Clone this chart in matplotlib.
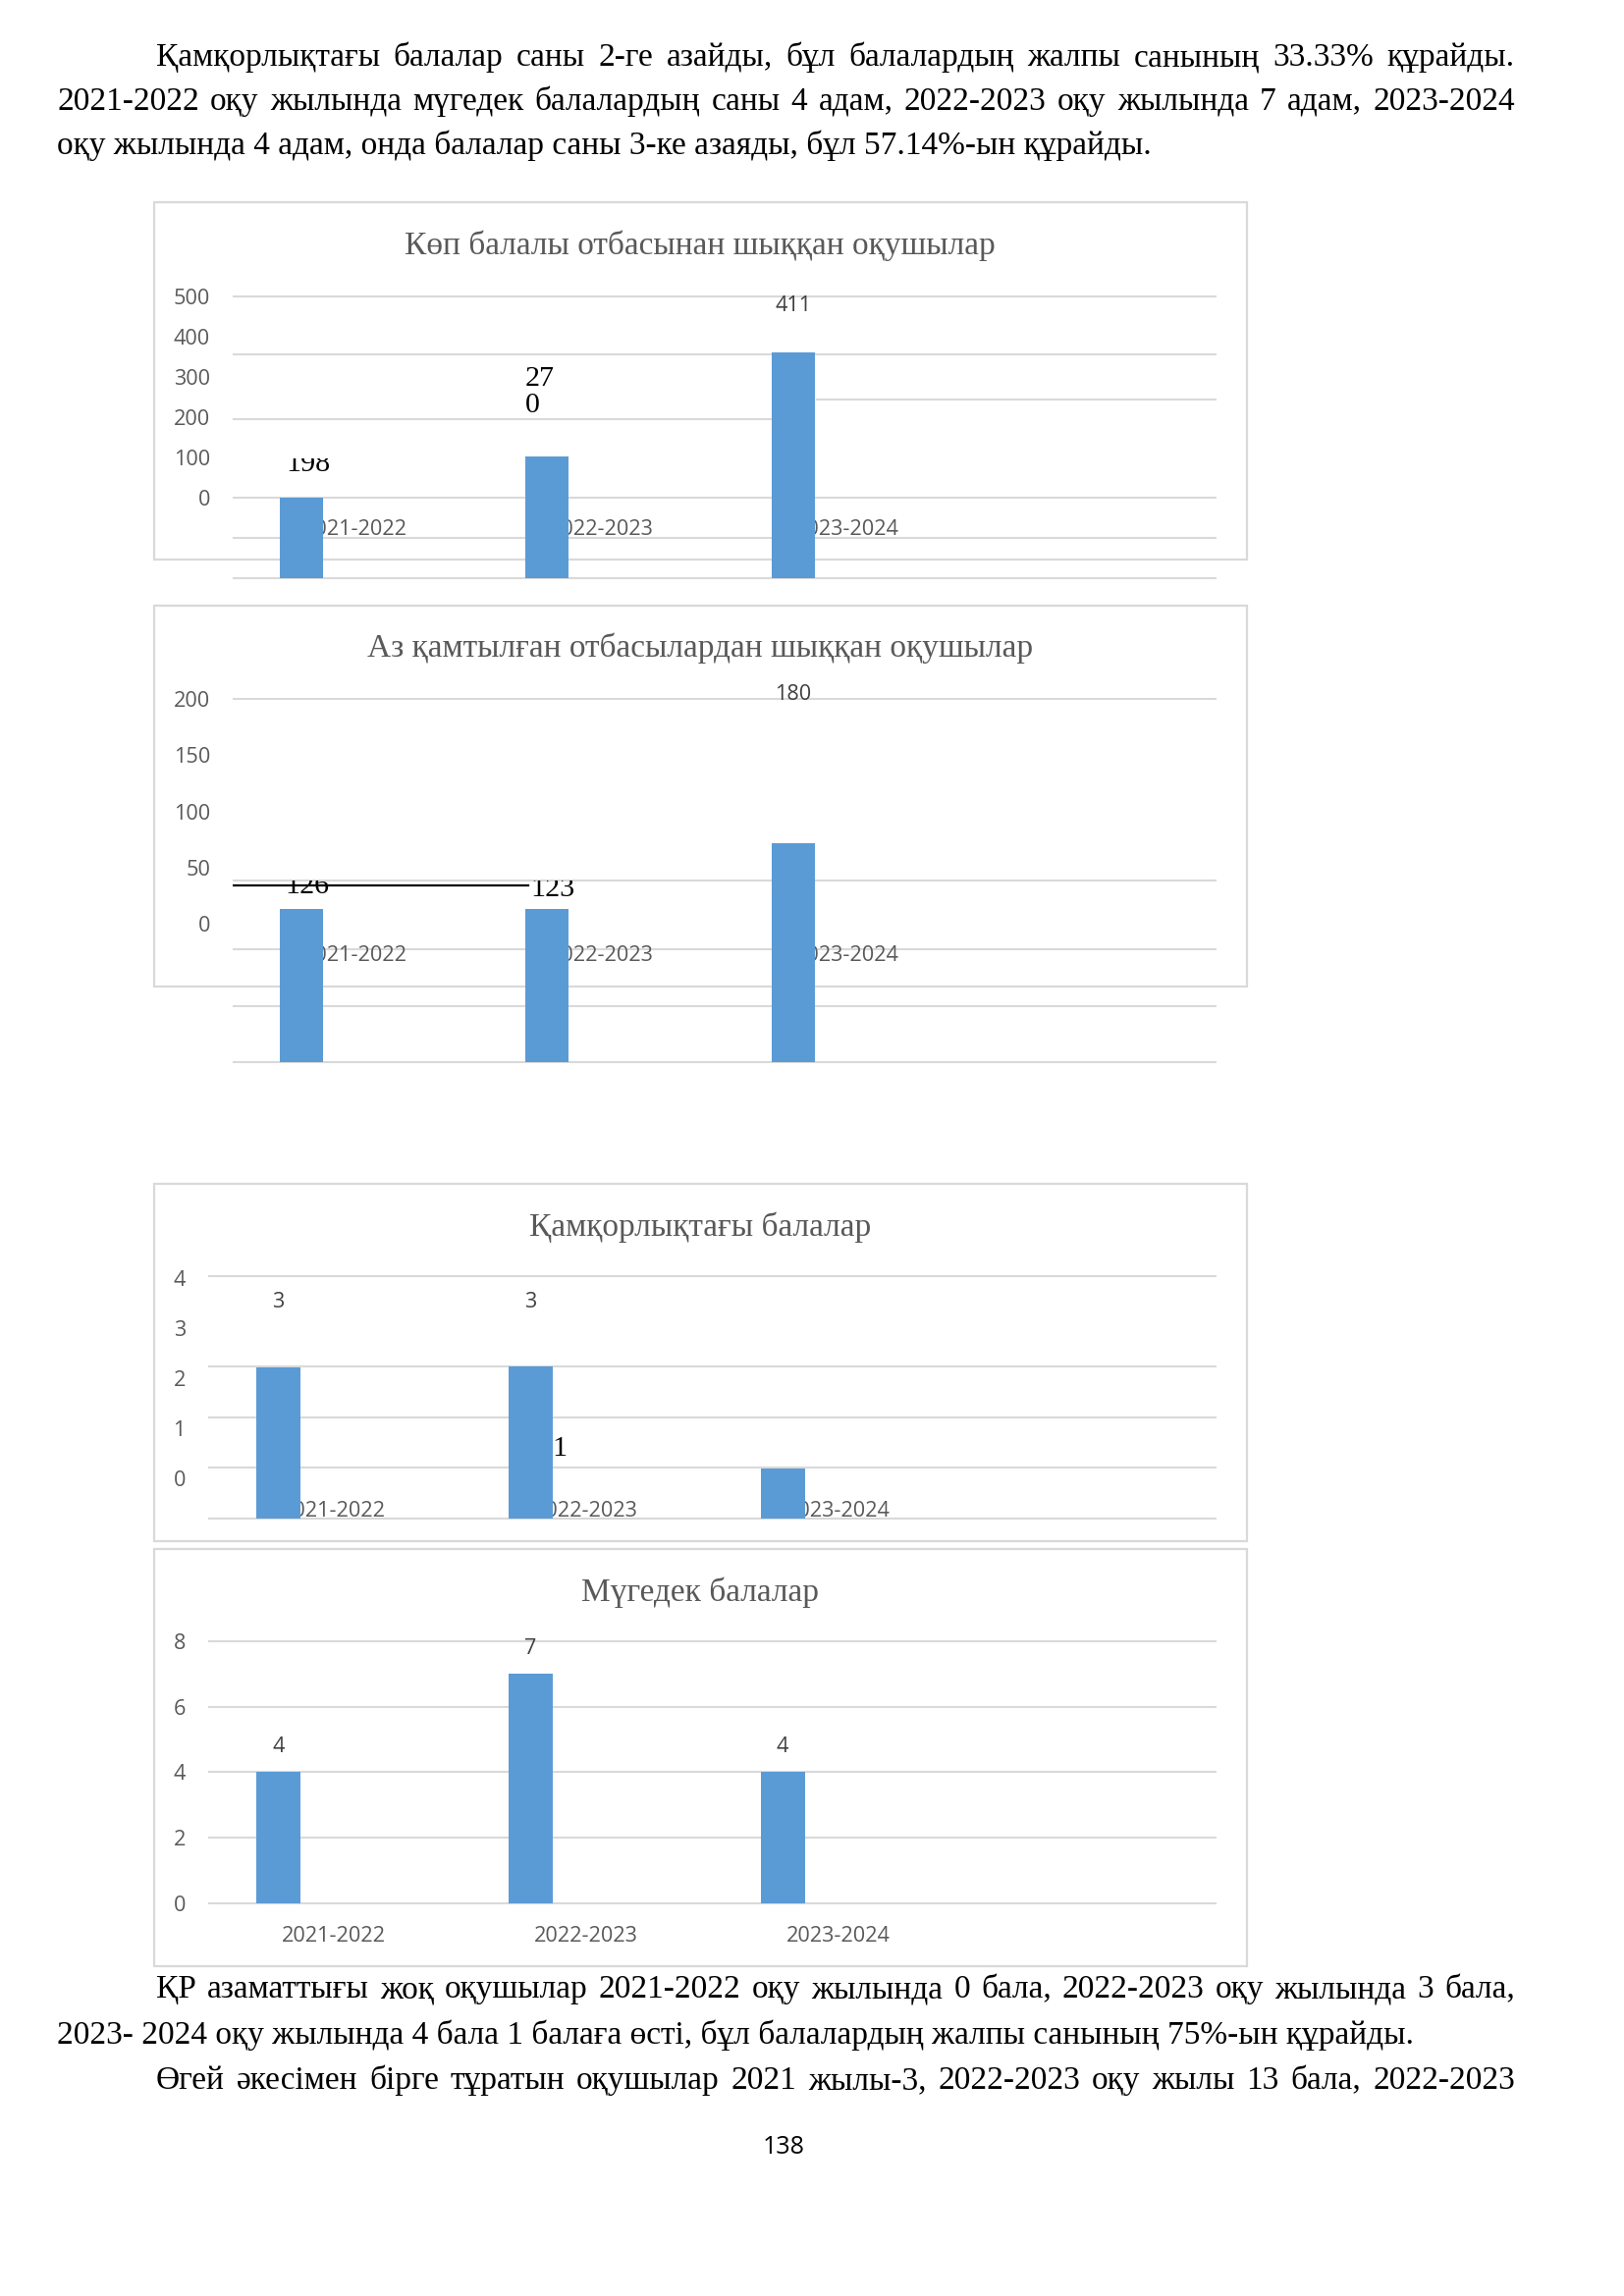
import matplotlib
matplotlib.use("Agg")
import matplotlib.pyplot as plt
from matplotlib.patches import Rectangle
from matplotlib.transforms import Bbox

W, H, DPI = 1654, 2339, 200

SERIF = ["Liberation Serif", "DejaVu Serif"]
SANS = ["Open Sans", "DejaVu Sans"]
TXT_GRAY = "#595959"
LBL_GRAY = "#404040"
GRID = "#d9d9d9"
BAR = "#5b9bd5"

plt.rcParams["font.family"] = SANS

years = ["2021-2022", "2022-2023", "2023-2024"]

# --- chart 1: Көп балалы (broken render)
kop_title = "Көп балалы отбасынан шыққан оқушылар"
kop_ticks = [0, 100, 200, 300, 400, 500]
kop_bar_base = -200
kop_bar_tops = [0, 102, 361]
kop_grid = [500, 355, 245, 195, 0, -100, -200]
kop_grid_from = [0, 0, 2.37, 0, 0, 0, 0]
kop_grid_to = [4, 4, 4, 2.19, 4, 4, 4]
kop_values = ["198", "27\n0", "411"]

# --- chart 2: Аз қамтылған
az_title = "Аз қамтылған отбасылардан шыққан оқушылар"
az_ticks = [0, 50, 100, 150, 200]
az_bar_base = -123
az_bar_tops = [13, 13, 72]
az_grid = [200, 38, -23, -73, -123]
az_values = ["126", "123", "180"]

# --- chart 3: Қамқорлықтағы
qam_title = "Қамқорлықтағы балалар"
qam_ticks = [0, 1, 2, 3, 4]
qam_bar_base = -0.8
qam_bar_tops = [2.22, 2.24, 0.2]
qam_grid = [4.04, 2.24, 1.22, 0.22, -0.8]
qam_values = ["3", "3", "1"]

# --- chart 4: Мүгедек
mug_title = "Мүгедек балалар"
mug_ticks = [0, 2, 4, 6, 8]
mug_values = [4, 7, 4]

top_lines = [
    "Қамқорлықтағы балалар саны 2-ге азайды, бұл балалардың жалпы санының 33.33% құрайды.",
    "2021-2022 оқу жылында мүгедек балалардың саны 4 адам, 2022-2023 оқу жылында 7 адам, 2023-2024",
    "оқу жылында 4 адам, онда балалар саны 3-ке азаяды, бұл 57.14%-ын құрайды.",
]
bottom_lines = [
    "ҚР азаматтығы жоқ оқушылар 2021-2022 оқу жылында 0 бала, 2022-2023 оқу жылында 3 бала,",
    "2023- 2024 оқу жылында 4 бала 1 балаға өсті, бұл балалардың жалпы санының 75%-ын құрайды.",
    "Өгей әкесімен бірге тұратын оқушылар 2021 жылы-3, 2022-2023 оқу жылы 13 бала, 2022-2023",
]
page_no = "138"

fig = plt.figure(figsize=(W / DPI, H / DPI), dpi=DPI)
fig.patch.set_facecolor("white")
renderer = fig.canvas.get_renderer()


def fx(x):
    return x / W


def fy(y):
    return 1 - y / H


def page_line(s, x0, y, x1=None, size=12):
    if x1 is None:
        fig.text(fx(x0), fy(y), s, family=SERIF, size=size, va="baseline")
        return
    words = s.split(" ")
    items = [fig.text(0, fy(y), w, family=SERIF, size=size, va="baseline") for w in words]
    widths = [t.get_window_extent(renderer).width for t in items]
    gap = (x1 - x0 - sum(widths)) / (len(words) - 1)
    x = x0
    for t, w in zip(items, widths):
        t.set_x(fx(x))
        x += w + gap


def box(top, bottom, left=157, right=1270):
    fig.add_artist(Rectangle((fx(left), fy(bottom)), (right - left) / W, (bottom - top) / H,
                             transform=fig.transFigure, fill=False, ec=GRID, lw=0.8, zorder=0))


def chart_axes(left, right, top, bottom, zero_px, ppu, ticks):
    ax = fig.add_axes([fx(left), fy(bottom), (right - left) / W, (bottom - top) / H])
    ax.set_xlim(0, 4)
    ax.set_ylim((zero_px - bottom) / ppu, (zero_px - top) / ppu)
    ax.set_facecolor("none")
    for sp in ax.spines.values():
        sp.set_visible(False)
    ax.set_xticks([])
    ax.set_yticks(ticks)
    ax.tick_params(axis="y", length=0, pad=8.3, labelsize=7.8, labelcolor=TXT_GRAY)
    return ax


def clip_px(t, y0, y1, x0=0, x1=W):
    t.set_clip_on(True)
    t.set_clip_path(None)
    t.set_clip_box(Bbox.from_extents(x0, H - y1, x1, H - y0))


def title(s, y):
    fig.text(fx(713), fy(y), s, family=SERIF, size=12, color=TXT_GRAY, ha="center", va="center")


bar_x = [i + 0.5 - 0.221 for i in range(3)]
cat_x = [i + 0.5 for i in range(3)]
BW = 0.176

# page text
page_line(top_lines[0], 159, 67, 1543)
page_line(top_lines[1], 58, 112, 1543)
page_line(top_lines[2], 58, 157)
page_line(bottom_lines[0], 159, 2035, 1543)
page_line(bottom_lines[1], 58, 2082)
page_line(bottom_lines[2], 159, 2128, 1543)
fig.text(fx(798), fy(2187), page_no, size=9, ha="center", va="center")

# chart 1
box(206, 570)
title(kop_title, 250)
ax = chart_axes(237, 1239, 290, 595, 507, 0.41, kop_ticks)
for g, a, b in zip(kop_grid, kop_grid_from, kop_grid_to):
    ax.hlines(g, a, b, colors=GRID, lw=0.75, zorder=1)
ax.bar(bar_x, [t - kop_bar_base for t in kop_bar_tops], bottom=kop_bar_base, width=BW,
       color=BAR, zorder=3)
for x, lab in zip(cat_x, years):
    ax.text(x, -80, lab, size=7.8, color=TXT_GRAY, ha="center", va="center", zorder=2)
ax.text(bar_x[2], 476, kop_values[2], size=7.8, color=LBL_GRAY, ha="center", va="center")
ax.text(1.19, 278, kop_values[1].split("\n")[0], family=SERIF, size=10.8, ha="left", va="baseline")
ax.text(1.19, 212, kop_values[1].split("\n")[1], family=SERIF, size=10.8, ha="left", va="baseline")
t = ax.text(0.307, 66, kop_values[0], family=SERIF, size=10.8, ha="center", va="baseline")
clip_px(t, 467, 600)

# chart 2
box(617, 1005)
title(az_title, 660)
ax = chart_axes(237, 1239, 690, 1088, 941, 1.145, az_ticks)
for g in az_grid:
    ax.axhline(g, color=GRID, lw=0.75, zorder=1)
ax.bar(bar_x, [t - az_bar_base for t in az_bar_tops], bottom=az_bar_base, width=BW,
       color=BAR, zorder=3)
for x, lab in zip(cat_x, years):
    ax.text(x, -28, lab, size=7.8, color=TXT_GRAY, ha="center", va="center", zorder=2)
ax.text(bar_x[2], 203.5, az_values[2], size=7.8, color=LBL_GRAY, ha="center", va="center")
ax.plot([0, 1.2], [34.1, 34.1], color="black", lw=0.8, zorder=4)
t = ax.text(0.303, 27.1, az_values[0], family=SERIF, size=10.8, ha="center", va="baseline")
clip_px(t, 897, 1000)
t = ax.text(1.30, 24.5, az_values[1], family=SERIF, size=10.8, ha="center", va="baseline")
clip_px(t, 897, 1000)

# chart 3
box(1206, 1570)
title(qam_title, 1250)
ax = chart_axes(212, 1239, 1290, 1550, 1506, 51, qam_ticks)
for g in qam_grid:
    ax.axhline(g, color=GRID, lw=0.75, zorder=1)
ax.bar(bar_x, [t - qam_bar_base for t in qam_bar_tops], bottom=qam_bar_base, width=BW,
       color=BAR, zorder=3)
for x, lab in zip(cat_x, years):
    t = ax.text(x, -0.65, lab, size=7.8, color=TXT_GRAY, ha="center", va="center", zorder=2)
    clip_px(t, 1400, 1547)
for x, lab in zip(bar_x[:2], qam_values[:2]):
    ax.text(x, 3.51, lab, size=7.8, color=LBL_GRAY, ha="center", va="center")
ax.text(1.394, 0.45, qam_values[2], family=SERIF, size=10.8, ha="center", va="baseline")

# chart 4
box(1578, 2003)
title(mug_title, 1622)
ax = chart_axes(212, 1239, 1650, 1990, 1939, 33.4, mug_ticks)
for g in mug_ticks:
    ax.axhline(g, color=GRID, lw=0.75, zorder=1)
ax.bar(bar_x, mug_values, width=BW, color=BAR, zorder=3)
for x, v in zip(bar_x, mug_values):
    ax.text(x, v + 0.77, str(v), size=7.8, color=LBL_GRAY, ha="center", va="center")
for x, lab in zip(cat_x, years):
    ax.text(x, -0.99, lab, size=7.8, color=TXT_GRAY, ha="center", va="center", zorder=2)

fig.savefig("out.png", dpi=DPI)
